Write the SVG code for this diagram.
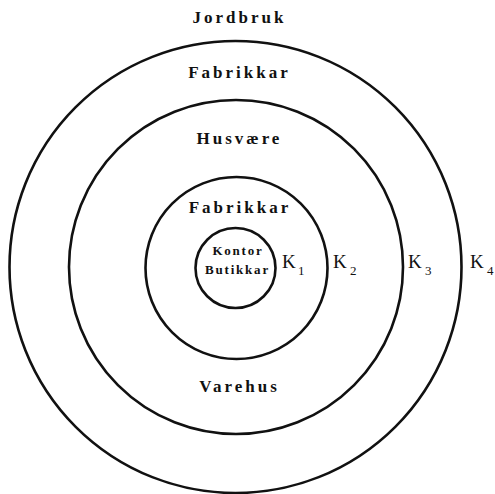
<svg xmlns="http://www.w3.org/2000/svg" width="495" height="494" viewBox="0 0 495 494">
<style>
.ring{fill:none;stroke:#111;stroke-width:2.6}
.lbl{font-family:"Liberation Serif",serif;font-weight:bold;font-size:17px;letter-spacing:3px;fill:#111;text-anchor:middle}
.sm{font-family:"Liberation Serif",serif;font-weight:bold;font-size:13px;letter-spacing:1.8px;fill:#111;text-anchor:middle}
.k{font-family:"Liberation Serif",serif;font-size:19px;fill:#111}
.sub{font-family:"Liberation Serif",serif;font-size:13px;fill:#111}
</style>
<rect width="495" height="494" fill="#fff"/>
<g id="ring-k4"><circle class="ring" cx="235.5" cy="267" r="226"/></g>
<g id="ring-k3"><circle class="ring" cx="236" cy="267" r="167"/></g>
<g id="ring-k2"><circle class="ring" cx="236.5" cy="268" r="91"/></g>
<g id="ring-k1"><circle class="ring" cx="235.5" cy="268" r="40"/></g>
<g id="labels">
<text class="lbl" x="239.5" y="23">Jordbruk</text>
<text class="lbl" x="239.5" y="78">Fabrikkar</text>
<text class="lbl" x="239.5" y="144">Husvære</text>
<text class="lbl" x="240" y="213">Fabrikkar</text>
<text class="sm" x="238" y="255">Kontor</text>
<text class="sm" x="237.5" y="274">Butikkar</text>
<text class="lbl" x="239.5" y="392">Varehus</text>
</g>
<g id="k-labels">
<text class="k" x="282" y="268">K</text><text class="sub" x="298" y="275">1</text>
<text class="k" x="333" y="268">K</text><text class="sub" x="350" y="275">2</text>
<text class="k" x="408" y="268">K</text><text class="sub" x="425" y="275">3</text>
<text class="k" x="470" y="268">K</text><text class="sub" x="487" y="275">4</text>
</g>
</svg>
